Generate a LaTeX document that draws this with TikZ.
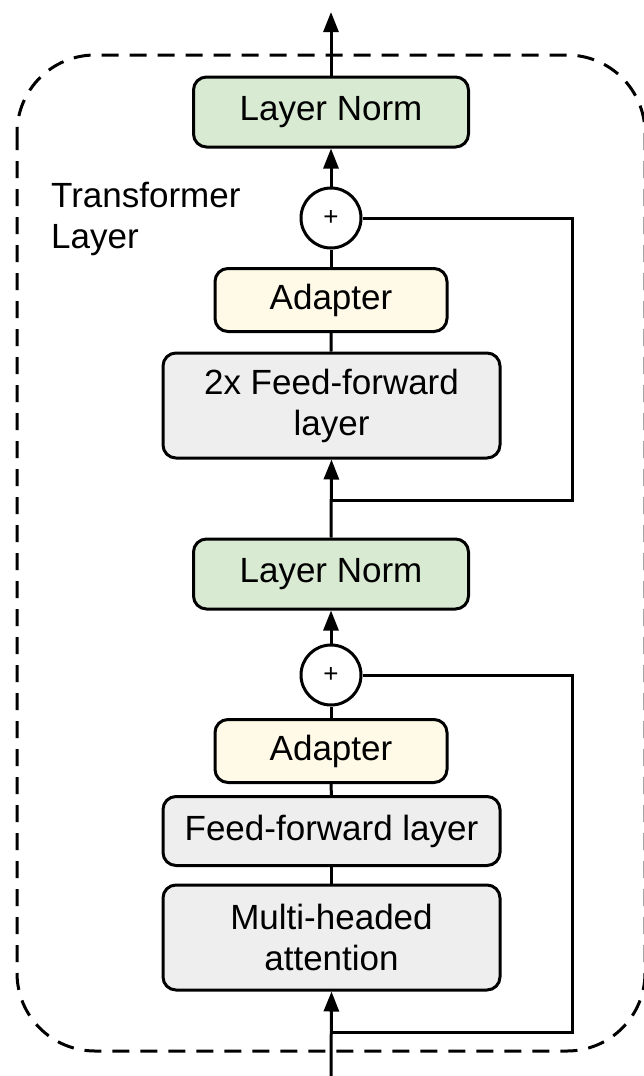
\documentclass[tikz,border=0pt]{standalone}
\usepackage{fontspec}
\setmainfont{Liberation Sans}
\usetikzlibrary{arrows.meta,positioning}
\definecolor{lngreen}{HTML}{D9EAD3}
\definecolor{adcream}{HTML}{FFF9E8}
\definecolor{ffgray}{HTML}{EEEEEE}
\begin{document}
\begin{tikzpicture}[x=1pt,y=-1pt,
  every node/.style={font=\fontsize{35}{41}\selectfont},
  blk/.style={draw=black, line width=3pt, rounded corners=13pt, align=center, inner sep=0pt},
  lnbox/.style={blk, fill=lngreen, minimum width=275pt, minimum height=70pt},
  adbox/.style={blk, fill=adcream, minimum width=232pt, minimum height=63pt},
  ffbox/.style={blk, fill=ffgray, minimum width=337pt},
  sumnode/.style={draw=black, line width=3pt, circle, fill=white, minimum size=60pt, inner sep=0pt, font=\fontsize{26}{30}\selectfont},
  conn/.style={line width=3pt},
  arr/.style={conn, -{Triangle[width=15pt,length=20pt]}},
  lbl/.style={align=left, anchor=north west, inner sep=0pt}
]
\useasboundingbox (0,0) rectangle (643,1076);
\fill[white] (0,0) rectangle (643,1076);
% dashed container
\draw[line width=3pt, dash pattern=on 17pt off 11pt, rounded corners=78pt] (17,55) rectangle (645,1051);
% nodes
\node[lnbox] (ln2) at (331,112) {Layer Norm};
\node[sumnode] (plus2) at (331,218) {+};
\node[adbox] (ad2) at (331,300) {Adapter};
\node[ffbox, minimum height=105pt] (ff2) at (331.5,405.5) {2x Feed-forward\\layer};
\node[lnbox] (ln1) at (331,574) {Layer Norm};
\node[sumnode] (plus1) at (331,675) {+};
\node[adbox] (ad1) at (331,751) {Adapter};
\node[ffbox, minimum height=69pt] (ff1) at (331.5,831) {Feed-forward layer};
\node[ffbox, minimum height=105pt] (mha) at (331.5,937.5) {Multi-headed\\attention};
\node[lbl] (title) at (51,182) {Transformer\\Layer};
% coordinates
\coordinate (top) at (331,12);
\coordinate (bot) at (331,1076);
\coordinate (j2) at (331,500);
\coordinate (j1) at (331,1032);
\coordinate (r2) at (572,500);
\coordinate (r1) at (572,1032);
% main flow
\draw[arr] (bot) -- (mha.south);
\draw[conn] (mha) -- (ff1);
\draw[conn] (ff1) -- (ad1);
\draw[conn] (ad1) -- (plus1);
\draw[arr] (plus1) -- (ln1);
\draw[arr] (ln1.north) -- (ff2.south);
\draw[conn] (ff2) -- (ad2);
\draw[conn] (ad2) -- (plus2);
\draw[arr] (plus2) -- (ln2);
\draw[arr] (ln2.north) -- (top);
% residuals
\draw[conn] (j1) -- (r1) |- (plus1.east);
\draw[conn] (j2) -- (r2) |- (plus2.east);
\end{tikzpicture}
\end{document}
